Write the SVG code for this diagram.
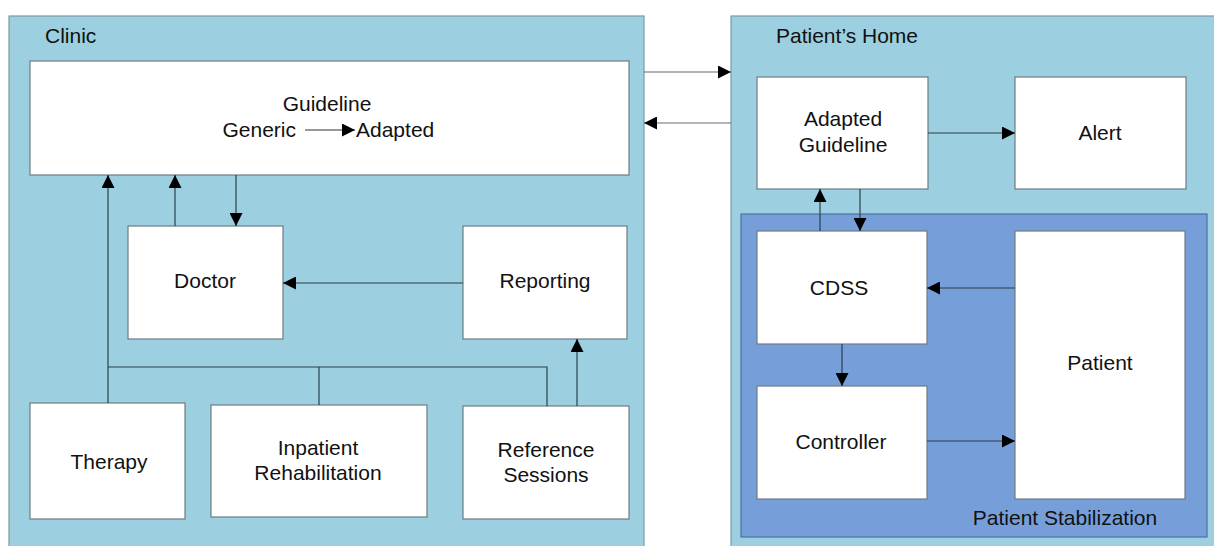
<svg xmlns="http://www.w3.org/2000/svg" width="1214" height="546" viewBox="0 0 1214 546">
<style>
.panel{fill:#9ccfdf;stroke:#7d9aa6;stroke-width:1.2}
.inner{fill:#769fda;stroke:#4f6f9f;stroke-width:1.2}
.box{fill:#ffffff;stroke:#6c7c84;stroke-width:1.2}
.t{font-family:"Liberation Sans",Arial,sans-serif;font-size:21px;fill:#111;text-anchor:middle}
.te{text-anchor:end}
.ts{text-anchor:start}
.lbl{font-family:"Liberation Sans",Arial,sans-serif;font-size:21px;fill:#111}
.c{fill:none;stroke:#2b3f48;stroke-width:1.2}
.c2{fill:none;stroke:#5c6e76;stroke-width:1.2}
</style>
<defs>
<marker id="ah" viewBox="0 0 10 10" refX="10" refY="5" markerWidth="13" markerHeight="13" markerUnits="userSpaceOnUse" orient="auto">
<path d="M0,0 L10,5 L0,10 z" fill="#000"/>
</marker>
</defs>
<rect width="1214" height="546" fill="#ffffff"/>
<g id="clinic">
<rect class="panel" x="9" y="16" width="635" height="535"/>
<text class="lbl" x="45" y="43">Clinic</text>
</g>
<g id="home">
<rect class="panel" x="731" y="16" width="490" height="535"/>
<text class="lbl" x="776" y="43">Patient’s Home</text>
</g>
<g id="stabilization">
<rect class="inner" x="741" y="214" width="466" height="323"/>
<text class="t" x="1065" y="525">Patient Stabilization</text>
</g>
<g id="guideline">
<rect class="box" x="30" y="61" width="599" height="114"/>
<text class="t" x="327" y="111">Guideline</text>
<text class="t te" x="296" y="137">Generic</text>
<text class="t ts" x="356" y="137">Adapted</text>
<line x1="305" y1="130" x2="355" y2="130" stroke="#333" stroke-width="1.2" marker-end="url(#ah)"/>
</g>
<g id="doctor">
<rect class="box" x="128" y="226" width="155" height="113"/>
<text class="t" x="205" y="288">Doctor</text>
</g>
<g id="reporting">
<rect class="box" x="463" y="226" width="164" height="113"/>
<text class="t" x="545" y="288">Reporting</text>
</g>
<g id="therapy">
<rect class="box" x="30" y="403" width="155" height="116"/>
<text class="t" x="109" y="469">Therapy</text>
</g>
<g id="inpatient">
<rect class="box" x="211" y="405" width="216" height="112"/>
<text class="t" x="318" y="455">Inpatient</text>
<text class="t" x="318" y="480">Rehabilitation</text>
</g>
<g id="reference">
<rect class="box" x="463" y="406" width="166" height="113"/>
<text class="t" x="546" y="457">Reference</text>
<text class="t" x="546" y="482">Sessions</text>
</g>
<g id="adapted">
<rect class="box" x="757" y="77" width="171" height="112"/>
<text class="t" x="843" y="126">Adapted</text>
<text class="t" x="843" y="152">Guideline</text>
</g>
<g id="alert">
<rect class="box" x="1015" y="77" width="171" height="112"/>
<text class="t" x="1100" y="140">Alert</text>
</g>
<g id="cdss">
<rect class="box" x="757" y="231" width="170" height="113"/>
<text class="t" x="839" y="295">CDSS</text>
</g>
<g id="controller">
<rect class="box" x="757" y="386" width="170" height="113"/>
<text class="t" x="841" y="449">Controller</text>
</g>
<g id="patient">
<rect class="box" x="1015" y="231" width="170" height="268"/>
<text class="t" x="1100" y="370">Patient</text>
</g>
<g id="connectors">
<line class="c2" x1="644" y1="72" x2="731" y2="72" marker-end="url(#ah)"/>
<line class="c2" x1="731" y1="123" x2="644" y2="123" marker-end="url(#ah)"/>
<line class="c" x1="928" y1="133" x2="1015" y2="133" marker-end="url(#ah)"/>
<line class="c" x1="820" y1="231" x2="820" y2="189" marker-end="url(#ah)"/>
<line class="c" x1="860" y1="189" x2="860" y2="231" marker-end="url(#ah)"/>
<line class="c" x1="842" y1="344" x2="842" y2="386" marker-end="url(#ah)"/>
<line class="c" x1="1015" y1="288" x2="927" y2="288" marker-end="url(#ah)"/>
<line class="c" x1="927" y1="441" x2="1015" y2="441" marker-end="url(#ah)"/>
<line class="c" x1="463" y1="283" x2="283" y2="283" marker-end="url(#ah)"/>
<line class="c" x1="236" y1="175" x2="236" y2="226" marker-end="url(#ah)"/>
<line class="c" x1="175" y1="226" x2="175" y2="175" marker-end="url(#ah)"/>
<line class="c" x1="108" y1="403" x2="108" y2="175" marker-end="url(#ah)"/>
<polyline class="c" points="108,367 547,367 547,406"/>
<line class="c" x1="319" y1="367" x2="319" y2="405"/>
<line class="c" x1="577" y1="406" x2="577" y2="339" marker-end="url(#ah)"/>
</g>
</svg>
